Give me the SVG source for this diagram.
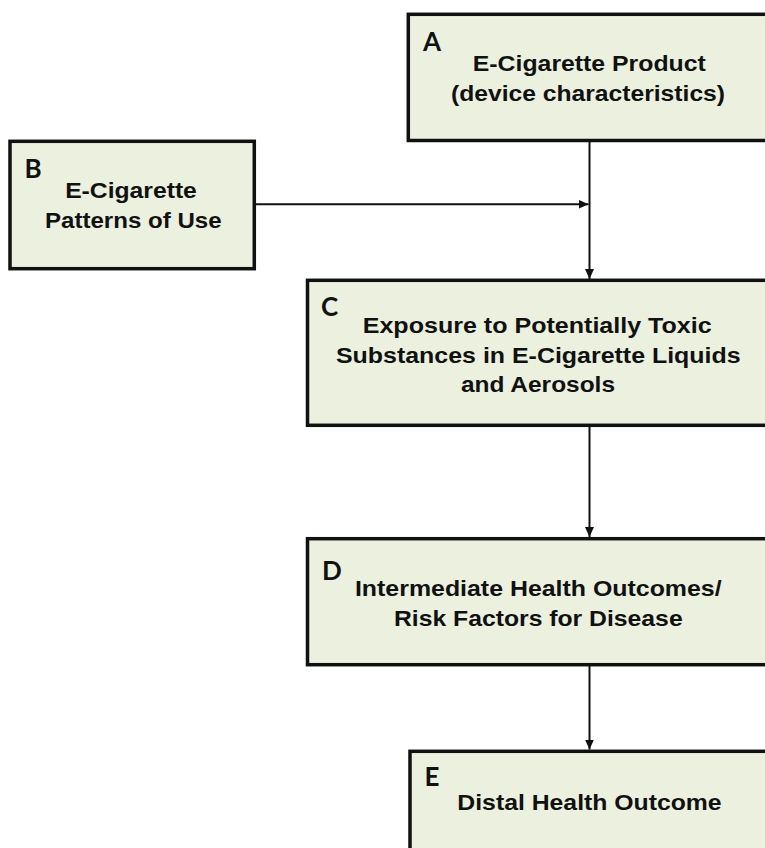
<svg xmlns="http://www.w3.org/2000/svg" width="765" height="848" viewBox="0 0 765 848">
<style>
.box{fill:#EBF1DE;stroke:#111;stroke-width:3.5}
.lbl{font-family:Lato,"Open Sans","Liberation Sans",sans-serif;font-weight:bold;font-size:26px;fill:#111}
.t{font-family:"Liberation Sans",Arial,sans-serif;font-weight:bold;font-size:22px;fill:#111;text-anchor:middle}
.c{stroke:#111;stroke-width:2;fill:none}
</style>
<defs>
<marker id="ah" markerUnits="userSpaceOnUse" markerWidth="10" markerHeight="10" refX="10" refY="5" orient="auto">
<path d="M0,0.5 L10,5 L0,9.5 z" fill="#111"/>
</marker>
</defs>
<rect width="765" height="848" fill="#fff"/>
<g id="connectors">
<line class="c" x1="589.5" y1="142" x2="589.5" y2="279" marker-end="url(#ah)"/>
<line class="c" x1="256" y1="204.3" x2="588.5" y2="204.3" marker-end="url(#ah)"/>
<line class="c" x1="589.5" y1="427" x2="589.5" y2="537" marker-end="url(#ah)"/>
<line class="c" x1="589.5" y1="666" x2="589.5" y2="749.5" marker-end="url(#ah)"/>
</g>
<g id="nodeA">
<rect class="box" x="408.3" y="14.3" width="370" height="126.2"/>
<text class="lbl" x="423" y="50.7">A</text>
<text class="t" x="589.3" y="71" textLength="233" lengthAdjust="spacingAndGlyphs">E-Cigarette Product</text>
<text class="t" x="588" y="101" textLength="274" lengthAdjust="spacingAndGlyphs">(device characteristics)</text>
</g>
<g id="nodeB">
<rect class="box" x="10" y="141.3" width="244.3" height="127.4"/>
<text class="lbl" x="24.5" y="178.3">B</text>
<text class="t" x="131" y="198.3" textLength="131.7" lengthAdjust="spacingAndGlyphs">E-Cigarette</text>
<text class="t" x="133.3" y="228.3" textLength="176.7" lengthAdjust="spacingAndGlyphs">Patterns of Use</text>
</g>
<g id="nodeC">
<rect class="box" x="307.5" y="280.3" width="470" height="145"/>
<text class="lbl" x="321" y="315.7">C</text>
<text class="t" x="537.2" y="333.3" textLength="349" lengthAdjust="spacingAndGlyphs">Exposure to Potentially Toxic</text>
<text class="t" x="538.3" y="362.7" textLength="404.7" lengthAdjust="spacingAndGlyphs">Substances in E-Cigarette Liquids</text>
<text class="t" x="538" y="391.7" textLength="154" lengthAdjust="spacingAndGlyphs">and Aerosols</text>
</g>
<g id="nodeD">
<rect class="box" x="307.5" y="538.7" width="470" height="126"/>
<text class="lbl" x="322" y="580">D</text>
<text class="t" x="538.3" y="596" textLength="366.7" lengthAdjust="spacingAndGlyphs">Intermediate Health Outcomes/</text>
<text class="t" x="538.3" y="626" textLength="288.7" lengthAdjust="spacingAndGlyphs">Risk Factors for Disease</text>
</g>
<g id="nodeE">
<rect class="box" x="410" y="751.3" width="370" height="120"/>
<text class="lbl" x="424.5" y="785.7">E</text>
<text class="t" x="589.5" y="810" textLength="264.3" lengthAdjust="spacingAndGlyphs">Distal Health Outcome</text>
</g>
</svg>
